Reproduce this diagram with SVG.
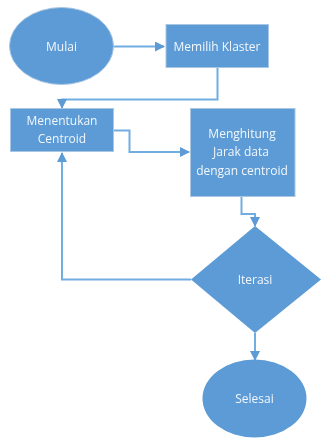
<svg xmlns="http://www.w3.org/2000/svg" width="322" height="440" viewBox="0 0 322 440">
<defs>
<filter id="soft" x="-10%" y="-10%" width="120%" height="120%"><feGaussianBlur stdDeviation="0.5"/></filter>
<marker id="arrow" markerUnits="userSpaceOnUse" markerWidth="10" markerHeight="10" refX="9" refY="5" orient="auto"><path d="M0 0L10 5L0 10Z" fill="#5b9bd5"/></marker>
</defs>
<style>
.shape{fill:#5b9bd5;stroke:#a9c6e3;stroke-width:1}
.plain{fill:#5b9bd5}
.line{fill:none;stroke:#70ade0;stroke-width:2}
text{font-family:"Open Sans","Liberation Sans",sans-serif;font-size:12px;fill:#f2f7fc;text-anchor:middle}
</style>
<rect width="322" height="440" fill="#fff"/>
<g id="connectors" filter="url(#soft)">
<path class="line" marker-end="url(#arrow)" d="M113 46.500H164"/>
<path class="line" marker-end="url(#arrow)" d="M217.500 67V99.500H62V108"/>
<path class="line" marker-end="url(#arrow)" d="M114 130.500H129.500V152H189"/>
<path class="line" marker-end="url(#arrow)" d="M241.500 197V214H255V226"/>
<path class="line" marker-end="url(#arrow)" d="M191 279.500H62V153"/>
<path class="line" marker-end="url(#arrow)" d="M255 333V360"/>
</g>
<g filter="url(#soft)">
<g id="mulai"><ellipse class="shape" cx="61.500" cy="46" rx="52" ry="38.500"/><text x="61.500" y="50.500">Mulai</text></g>
<g id="memilih"><rect class="shape" x="166" y="24.500" width="102.500" height="43"/><text x="217" y="50.500">Memilih Klaster</text></g>
<g id="menentukan"><rect class="shape" x="10.500" y="108.500" width="103" height="43"/><text x="62" y="125">Menentukan</text><text x="62" y="142.500">Centroid</text></g>
<g id="menghitung"><rect class="shape" x="190.500" y="108.500" width="104.500" height="88"/><text x="242" y="138">Menghitung</text><text x="241" y="156">Jarak data</text><text x="242" y="175">dengan centroid</text></g>
<g id="iterasi"><path class="plain" d="M255 226L321 279.500L255 333L191 279.500Z"/><text x="255" y="283.500">Iterasi</text></g>
<g id="selesai"><ellipse class="plain" cx="254.500" cy="398.500" rx="52" ry="39"/><text x="254.500" y="402.500">Selesai</text></g>
</g>
</svg>
